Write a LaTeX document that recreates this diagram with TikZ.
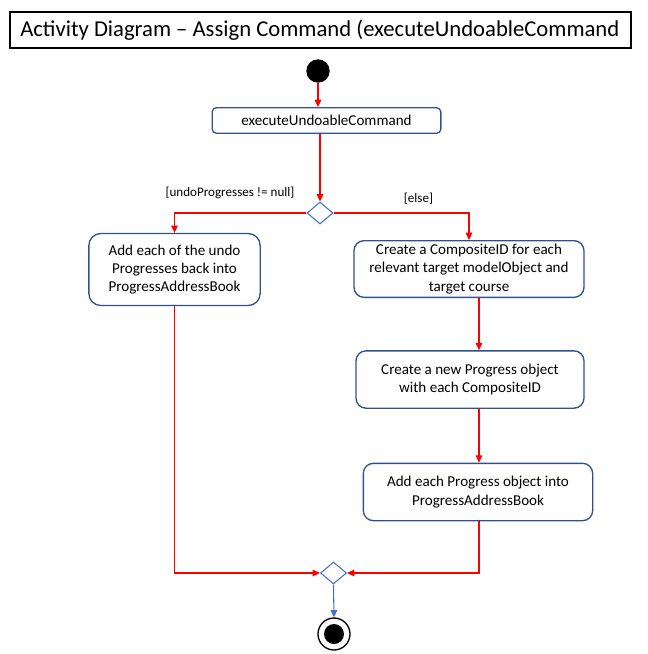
\documentclass[tikz,border=0pt]{standalone}
\usepackage{fontspec}
\setmainfont{Carlito}
\usetikzlibrary{arrows.meta,shapes.geometric}
\definecolor{boxblue}{HTML}{2F528F}
\definecolor{dblue}{HTML}{4472C4}
\definecolor{ared}{HTML}{FF0000}
\begin{document}
\begin{tikzpicture}[x=0.75pt,y=-0.75pt,
  act/.style={draw=boxblue,line width=1pt,align=center,inner sep=0pt,
    font=\fontsize{11.3}{13.8}\selectfont},
  flow/.style={draw=ared,line width=0.8pt,-{Triangle[length=5.5pt,width=5pt]}},
  bflow/.style={draw=dblue,line width=0.8pt,-{Triangle[length=5.5pt,width=5pt]}},
  dec/.style={draw=dblue,line width=0.8pt,diamond,inner sep=0pt,minimum width=19.5pt,minimum height=16.5pt},
  lbl/.style={font=\fontsize{9.8}{11.5}\selectfont,inner sep=0pt}]
\useasboundingbox (0,0) rectangle (647,654);
% title
\draw[line width=0.8pt] (10,12) rectangle (631,48);
\node[anchor=west,inner sep=0pt,font=\fontsize{17}{19}\selectfont] (title) at (20,30) {Activity Diagram – Assign Command (executeUndoableCommand};
% start
\node[circle,fill=black,minimum size=17.5pt,inner sep=0pt] (start) at (318,71) {};
% box1
\node[act,rounded corners=3.2pt,minimum width=171.5pt,minimum height=19.2pt] (b1) at (326.5,120.5) {executeUndoableCommand};
% decision
\node[dec] (d1) at (320,213) {};
% box2
\node[act,rounded corners=9pt,minimum width=128.5pt,minimum height=54pt] (b2) at (174.5,269.5) {Add each of the undo\\Progresses back into\\ProgressAddressBook};
% box3
\node[act,rounded corners=7.5pt,minimum width=172.5pt,minimum height=42.5pt] (b3) at (469,269) {Create a CompositeID for each\\relevant target modelObject and\\target course};
% box4
\node[act,rounded corners=7.5pt,minimum width=171pt,minimum height=43pt] (b4) at (470,379.5) {Create a new Progress object\\with each CompositeID};
% box5
\node[act,rounded corners=7.5pt,minimum width=172pt,minimum height=43pt] (b5) at (478,492) {Add each Progress object into\\ProgressAddressBook};
% merge
\node[dec] (d2) at (333.5,573) {};
% end
\node[circle,draw=black,line width=1pt,minimum size=24pt,inner sep=0pt] (end) at (334,634) {};
\node[circle,fill=black,minimum size=15pt,inner sep=0pt] (endin) at (334,634) {};
% labels
\node[lbl] (l1) at (230,193) {[undoProgresses != null]};
\node[lbl] (l2) at (418.5,199) {[else]};
% connectors
\draw[flow] (start.south) -- (start.south |- b1.north);
\draw[flow] (b1.south -| d1) -- (d1.north);
\draw[flow] (d1.west) -| (b2.north);
\draw[flow] (d1.east) -| (b3.north);
\draw[flow] (b3.south -| 479,0) -- (b4.north -| 479,0);
\draw[flow] (b4.south -| 479,0) -- (b5.north -| 479,0);
\draw[flow] (b5.south -| 479,0) |- (d2.east);
\draw[flow] (b2.south) |- (d2.west);
\draw[bflow] (d2.south) -- (end.north);
\end{tikzpicture}
\end{document}
